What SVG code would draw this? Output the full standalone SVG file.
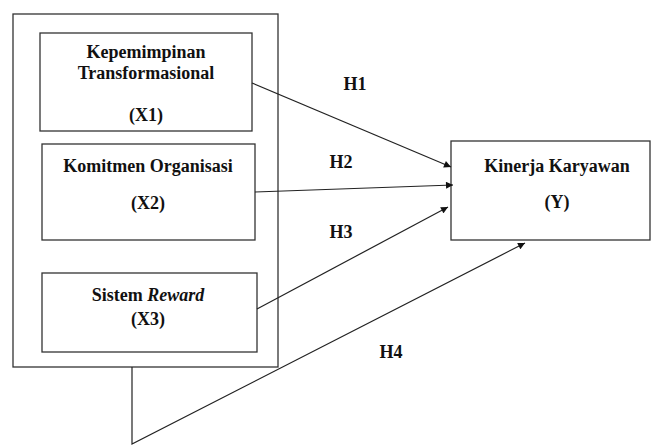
<svg xmlns="http://www.w3.org/2000/svg" width="654" height="446" viewBox="0 0 654 446">
<defs>
<marker id="ah" viewBox="0 0 10 10" refX="10" refY="5" markerWidth="8" markerHeight="7" markerUnits="userSpaceOnUse" orient="auto">
<path d="M0,0 L10,5 L0,10 z" fill="#111"/>
</marker>
</defs>
<style>
.box{fill:#fff;stroke:#333;stroke-width:1.3}
.t{font-family:'Liberation Serif','Times New Roman',Times,'DejaVu Serif','Noto Serif',serif;font-weight:bold;font-size:18px;fill:#111;text-anchor:middle}
.a{fill:none;stroke:#222;stroke-width:1.2;marker-end:url(#ah)}
</style>
<rect width="654" height="446" fill="#fff"/>
<g id="outer"><rect class="box" x="13" y="14" width="265" height="353"/></g>
<g id="x1"><rect class="box" x="40" y="33" width="212" height="98"/>
<text class="t" x="146" y="58">Kepemimpinan</text>
<text class="t" x="146" y="79">Transformasional</text>
<text class="t" x="146" y="121">(X1)</text></g>
<g id="x2"><rect class="box" x="42" y="144" width="213" height="96"/>
<text class="t" x="148" y="172">Komitmen Organisasi</text>
<text class="t" x="148" y="209">(X2)</text></g>
<g id="x3"><rect class="box" x="42" y="273" width="215" height="79"/>
<text class="t" x="148" y="301">Sistem <tspan font-style="italic">Reward</tspan></text>
<text class="t" x="148" y="325">(X3)</text></g>
<g id="y"><rect class="box" x="451" y="141" width="199" height="99"/>
<text class="t" x="557" y="172">Kinerja Karyawan</text>
<text class="t" x="557" y="208">(Y)</text></g>
<g id="connectors">
<line class="a" x1="252" y1="83" x2="451" y2="167"/>
<line class="a" x1="255" y1="192" x2="453" y2="185"/>
<line class="a" x1="257" y1="309" x2="448" y2="207"/>
<polyline class="a" points="132,367 132,444 525,243"/>
</g>
<g id="labels">
<text class="t" x="355" y="90">H1</text>
<text class="t" x="341" y="168">H2</text>
<text class="t" x="341" y="238">H3</text>
<text class="t" x="391" y="358">H4</text>
</g>
</svg>
